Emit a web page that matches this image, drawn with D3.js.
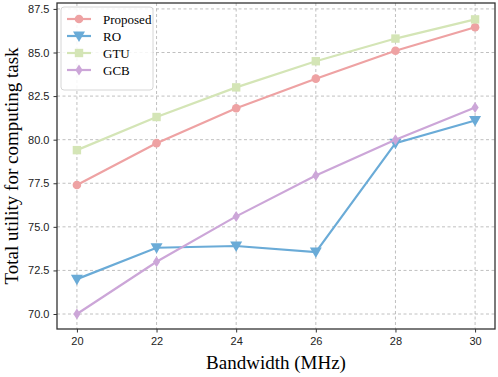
<!DOCTYPE html>
<meta charset="utf-8">
<style>
  body { margin: 0; background: #fff; }
  svg { font-family: "Liberation Serif", "Times New Roman", serif; }
  .grid line { stroke: #b0b0b0; stroke-dasharray: 3,2.5; stroke-width: 0.8; }
  .axis path, .axis line { stroke: #333; }
  .axis text { font-size: 11px; fill: #222; }
</style>
<body></body>
<script src="https://d3js.org/d3.v7.min.js"></script>
<script>
  // data
  var bandwidth = [20, 22, 24, 26, 28, 30];
  var proposed = [77.4, 79.8, 81.8, 83.5, 85.1, 86.45];
  var ro = [72.0, 73.8, 73.9, 73.55, 79.8, 81.1];
  var gtu = [79.4, 81.3, 83.0, 84.5, 85.8, 86.9];
  var gcb = [70.0, 73.0, 75.6, 77.95, 80.0, 81.85];
  var yTicks = [70.0, 72.5, 75.0, 77.5, 80.0, 82.5, 85.0, 87.5];

  var series = [
    { name: "Proposed", values: proposed, color: "#eea2a3", marker: "circle" },
    { name: "RO", values: ro, color: "#6aabd7", marker: "tri" },
    { name: "GTU", values: gtu, color: "#d4e5b6", marker: "square" },
    { name: "GCB", values: gcb, color: "#cca6d8", marker: "diamond" }
  ];

  var W = 498, H = 377;
  var margin = { top: 3, right: 3, bottom: 48, left: 57 };
  var width = W - margin.left - margin.right,
    height = H - margin.top - margin.bottom;

  var x = d3.scaleLinear().domain([19.5, 30.5]).range([0, width]);
  var y = d3.scaleLinear().domain([69.14, 87.84]).range([height, 0]);

  var svg = d3.select("body").append("svg")
    .attr("width", W).attr("height", H);

  var g = svg.append("g")
    .attr("transform", "translate(" + margin.left + "," + margin.top + ")");

  // grid
  var grid = g.append("g").attr("class", "grid");
  grid.selectAll(".gx").data(bandwidth).enter().append("line")
    .attr("x1", d => x(d)).attr("x2", d => x(d))
    .attr("y1", 0).attr("y2", height);
  grid.selectAll(".gy").data(yTicks).enter().append("line")
    .attr("x1", 0).attr("x2", width)
    .attr("y1", d => y(d)).attr("y2", d => y(d));

  var line = d3.line()
    .x((d, i) => x(bandwidth[i]))
    .y(d => y(d));

  function drawMarker(sel, type, color) {
    if (type === "circle") {
      sel.append("circle").attr("r", 4.3).attr("fill", color);
    } else if (type === "tri") {
      sel.append("path").attr("d", "M-6,-4.5 L6,-4.5 L0,6 Z").attr("fill", color);
    } else if (type === "square") {
      sel.append("rect").attr("x", -4.2).attr("y", -4.2)
        .attr("width", 8.4).attr("height", 8.4).attr("fill", color);
    } else {
      sel.append("path").attr("d", "M0,-5.5 L3.6,0 L0,5.5 L-3.6,0 Z").attr("fill", color);
    }
  }

  series.forEach(function(s) {
    g.append("path")
      .datum(s.values)
      .attr("fill", "none")
      .attr("stroke", s.color)
      .attr("stroke-width", 2.2)
      .attr("d", line);
    s.values.forEach(function(v, i) {
      var m = g.append("g")
        .attr("transform", "translate(" + x(bandwidth[i]) + "," + y(v) + ")");
      drawMarker(m, s.marker, s.color);
    });
  });

  // axes
  g.append("g")
    .attr("class", "axis")
    .attr("transform", "translate(0," + height + ")")
    .call(d3.axisBottom(x).tickValues(bandwidth).tickSize(3.5).tickPadding(5).tickFormat(d3.format("d")))
    .call(a => a.select(".domain").remove());
  g.append("g")
    .attr("class", "axis")
    .call(d3.axisLeft(y).tickValues(yTicks).tickSize(3.5).tickPadding(4).tickFormat(d3.format(".1f")))
    .call(a => a.select(".domain").remove());

  g.append("rect")
    .attr("width", width).attr("height", height)
    .attr("fill", "none").attr("stroke", "#333").attr("stroke-width", 1.3);

  // labels
  svg.append("text")
    .attr("x", margin.left + width / 2)
    .attr("y", H - 8)
    .attr("text-anchor", "middle")
    .style("font-size", "19px")
    .text("Bandwidth (MHz)");

  svg.append("text")
    .attr("transform", "translate(18," + (margin.top + height / 2) + ") rotate(-90)")
    .attr("text-anchor", "middle")
    .style("font-size", "19px")
    .text("Total utility for computing task");

  // legend
  var leg = svg.append("g").attr("transform", "translate(61,7)");
  leg.append("rect")
    .attr("width", 92).attr("height", 83).attr("rx", 3)
    .attr("fill", "#fff").attr("fill-opacity", 0.85)
    .attr("stroke", "#ccc").attr("stroke-width", 0.8);
  series.forEach(function(s, i) {
    var row = leg.append("g").attr("transform", "translate(0," + (12 + i * 17) + ")");
    row.append("line")
      .attr("x1", 6).attr("x2", 30)
      .attr("stroke", s.color).attr("stroke-width", 2.2);
    var m = row.append("g").attr("transform", "translate(18,0)");
    drawMarker(m, s.marker, s.color);
    row.append("text")
      .attr("x", 42).attr("y", 4.5)
      .style("font-size", "13px")
      .text(s.name);
  });
</script>
